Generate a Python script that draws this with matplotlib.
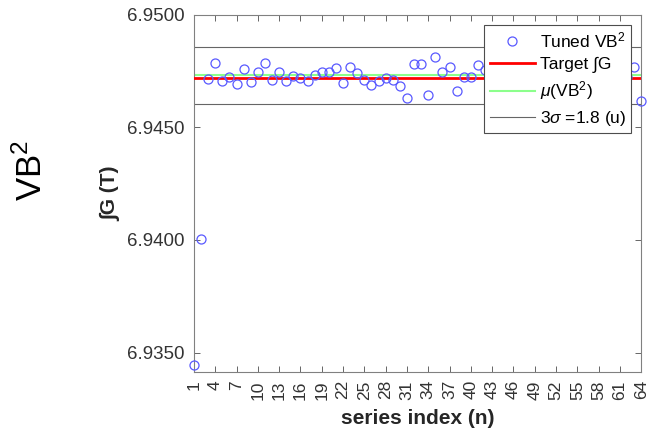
import matplotlib
matplotlib.use('Agg')
from matplotlib import pyplot as plt

plt.rcParams['font.family'] = ['Liberation Sans', 'DejaVu Sans']
plt.rcParams['mathtext.fontset'] = 'custom'
plt.rcParams['mathtext.rm'] = 'Liberation Sans'
plt.rcParams['mathtext.it'] = 'Liberation Sans:italic'

# measured integrated gradient per series index (points behind the legend not readable)
n_idx = [1, 2, 3, 4, 5, 6, 7, 8, 9, 10, 11, 12, 13, 14, 15, 16, 17, 18, 19, 20,
         21, 22, 23, 24, 25, 26, 27, 28, 29, 30, 31, 32, 33, 34, 35, 36, 37, 38,
         39, 40, 41, 42, 62, 63, 64]
int_g = [6.93446, 6.94005, 6.94716, 6.94784, 6.94707, 6.94722, 6.94692, 6.94759,
         6.94700, 6.94748, 6.94786, 6.94711, 6.94748, 6.94704, 6.94729, 6.94719,
         6.94707, 6.94734, 6.94746, 6.94744, 6.94763, 6.94699, 6.94770, 6.94741,
         6.94711, 6.94689, 6.94707, 6.94719, 6.94711, 6.94682, 6.94630, 6.94782,
         6.94781, 6.94645, 6.94812, 6.94748, 6.94770, 6.94663, 6.94722, 6.94723,
         6.94775, 6.94757, 6.94722, 6.94770, 6.94618]
target_g = 6.94719
mean_g = 6.94731
three_sigma = 0.00126
x_ticks = list(range(1, 65, 3))
y_ticks = [6.9350, 6.9400, 6.9450, 6.9500]

fig = plt.figure(figsize=(6.51, 4.36), dpi=100)
ax = fig.add_axes([0.298, 0.147, 0.687, 0.819])

ax.plot(n_idx, int_g, 'o', mfc='none', mec=(0.35, 0.35, 1.0), mew=0.9, ms=6.5,
        label='Tuned VB$^2$', zorder=4, clip_on=False)
ax.axhline(target_g, color='red', lw=2, label='Target \u222bG', zorder=3)
ax.axhline(mean_g, color=(0.55, 1.0, 0.55), lw=1.5, label='$\\mu$(VB$^2$)', zorder=2)
ax.axhline(mean_g + three_sigma, color='0.4', lw=0.8, label='3$\\sigma$ =1.8 (u)', zorder=2)
ax.axhline(mean_g - three_sigma, color='0.4', lw=0.8, zorder=2)

ax.set_xlim(1, 64)
ax.set_ylim(6.93414, 6.9500)
ax.set_xticks(x_ticks)
ax.set_xticklabels([str(v) for v in x_ticks], rotation=90)
ax.set_yticks(y_ticks)
ax.set_yticklabels(['%.4f' % v for v in y_ticks])
ax.tick_params(direction='in', top=True, right=True, length=4, width=0.6,
               color='0.3', labelcolor='0.2')
ax.tick_params(axis='y', labelsize=13.5, pad=7)
ax.tick_params(axis='x', labelsize=12.5, pad=6)
for s in ax.spines.values():
    s.set_color('0.5')
    s.set_linewidth(0.8)

ax.set_xlabel('series index (n)', fontsize=15, fontweight='bold', color='0.15', labelpad=7)
ax.set_ylabel('\u222bG (T)', fontsize=15, fontweight='bold', color='0.15', labelpad=4)

leg = ax.legend(loc='upper right', bbox_to_anchor=(0.978, 0.972), fontsize=12.5,
                fancybox=False, framealpha=1, edgecolor='0.3', borderpad=0.3,
                labelspacing=0.38, handlelength=2.6, handletextpad=0.3, borderaxespad=0)
leg.get_frame().set_linewidth(0.8)
leg.set_zorder(10)

fig.text(0.048, 0.61, 'VB$^2$', rotation=90, fontsize=25, ha='center', va='center')

fig.savefig('out.png', dpi=100)
